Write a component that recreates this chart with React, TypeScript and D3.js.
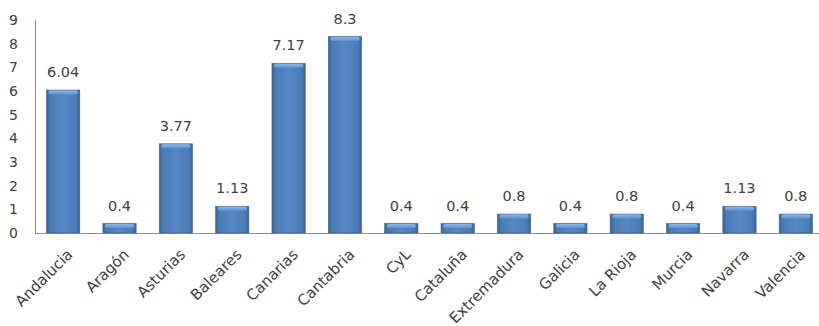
import React, { useEffect, useRef } from "react";
import * as d3 from "d3";

const categories = ["Andalucia", "Aragón", "Asturias", "Baleares", "Canarias", "Cantabria", "CyL", "Cataluña", "Extremadura", "Galicia", "La Rioja", "Murcia", "Navarra", "Valencia"];
const values = [6.04, 0.4, 3.77, 1.13, 7.17, 8.3, 0.4, 0.4, 0.8, 0.4, 0.8, 0.4, 1.13, 0.8];
const labels = ["6.04", "0.4", "3.77", "1.13", "7.17", "8.3", "0.4", "0.4", "0.8", "0.4", "0.8", "0.4", "1.13", "0.8"];
const yTicks = [0, 1, 2, 3, 4, 5, 6, 7, 8, 9];

const W = 819, H = 326;

export default function App() {
  const ref = useRef<SVGSVGElement>(null);
  useEffect(() => {
    const svg = d3.select(ref.current);
    svg.selectAll("*").remove();
    const left = 35, right = 824, top = 20, bottom = 233;
    const x = d3.scaleBand().domain(categories).range([left, right]).paddingInner(0.41).paddingOuter(0.205);
    const y = d3.scaleLinear().domain([0, 9]).range([bottom, top]);
    const font = "'DejaVu Sans', Verdana, sans-serif";
    const txt = "#404040";

    const defs = svg.append("defs");
    const g1 = defs.append("linearGradient").attr("id", "barGrad").attr("x1", 0).attr("x2", 1).attr("y1", 0).attr("y2", 0);
    g1.append("stop").attr("offset", "0%").attr("stop-color", "#3b6391");
    g1.append("stop").attr("offset", "12%").attr("stop-color", "#4c7cb6");
    g1.append("stop").attr("offset", "50%").attr("stop-color", "#5587c4");
    g1.append("stop").attr("offset", "88%").attr("stop-color", "#4c7cb6");
    g1.append("stop").attr("offset", "100%").attr("stop-color", "#3b6391");
    const g2 = defs.append("linearGradient").attr("id", "topGrad").attr("x1", 0).attr("x2", 0).attr("y1", 0).attr("y2", 1);
    g2.append("stop").attr("offset", "0%").attr("stop-color", "#8fb6e6");
    g2.append("stop").attr("offset", "100%").attr("stop-color", "#5d91cf");

    svg.append("line").attr("x1", left + 0.5).attr("x2", left + 0.5).attr("y1", top).attr("y2", bottom)
      .attr("stroke", "#8c8c8c").attr("stroke-width", 1);
    svg.append("line").attr("x1", left).attr("x2", W).attr("y1", bottom + 0.5).attr("y2", bottom + 0.5)
      .attr("stroke", "#8c8c8c").attr("stroke-width", 1);

    svg.append("g").selectAll("text").data(yTicks).join("text")
      .attr("x", 18).attr("y", d => y(d)).attr("dy", "0.36em").attr("text-anchor", "end")
      .attr("font-family", font).attr("font-size", 14).attr("fill", txt).text(d => String(d));

    const bars = svg.append("g").selectAll("g").data(values).join("g");
    bars.append("rect")
      .attr("x", (d, i) => x(categories[i])!)
      .attr("y", d => y(d))
      .attr("width", x.bandwidth())
      .attr("height", d => bottom - y(d))
      .attr("fill", "url(#barGrad)")
      .attr("stroke", "#3a5f8c").attr("stroke-width", 0.6);
    bars.append("rect")
      .attr("x", (d, i) => x(categories[i])! + 2)
      .attr("y", d => y(d) + 0.5)
      .attr("width", x.bandwidth() - 4)
      .attr("height", 4)
      .attr("rx", 2)
      .attr("fill", "url(#topGrad)");

    svg.append("g").selectAll("text").data(values).join("text")
      .attr("x", (d, i) => x(categories[i])! + x.bandwidth() / 2)
      .attr("y", d => y(d) - 13)
      .attr("text-anchor", "middle")
      .attr("font-family", font).attr("font-size", 14.5).attr("fill", txt)
      .text((d, i) => labels[i]);

    svg.append("g").selectAll("text").data(categories).join("text")
      .attr("transform", (d) => `translate(${x(d)! + x.bandwidth() / 2 + 3},${bottom + 15}) rotate(-45)`)
      .attr("text-anchor", "end").attr("dy", "0.7em")
      .attr("font-family", font).attr("font-size", 15).attr("fill", txt)
      .text(d => d);
  }, []);
  return (
    <div style={{ position: "absolute", left: 0, top: 0, width: W, height: H, background: "#fff" }}>
      <svg ref={ref} width={W} height={H} style={{ display: "block" }} />
    </div>
  );
}
